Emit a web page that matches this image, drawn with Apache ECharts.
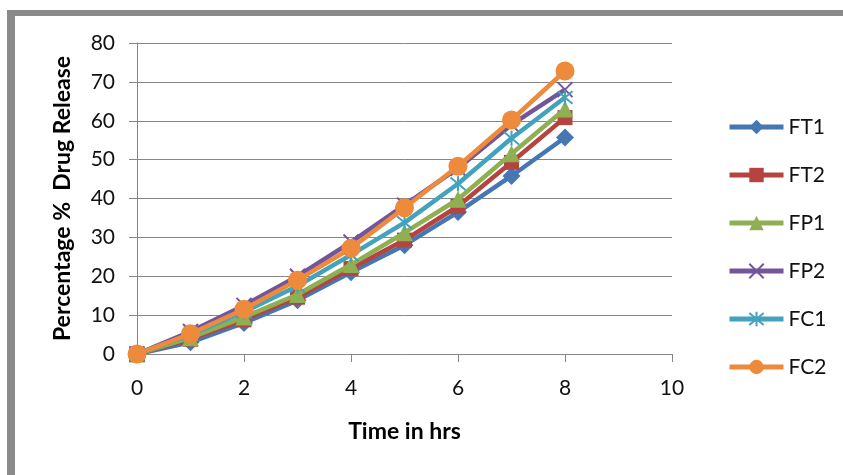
<!DOCTYPE html>
<html>
<head>
<meta charset="utf-8">
<script src="https://cdn.jsdelivr.net/npm/echarts@6/dist/echarts.min.js"></script>
<style>
  html, body { margin: 0; padding: 0; background: #ffffff; }
  #frame { position: absolute; left: 7px; top: 10px; width: 836px; height: 465px;
           border-top: 6px solid #8a8a8a; border-left: 8px solid #8a8a8a; box-sizing: border-box; }
  #chart { position: absolute; left: 0; top: 0; width: 843px; height: 475px; }
</style>
</head>
<body>
<div id="frame"></div>
<div id="chart"></div>
<script>
// ---- Data ----
const timeHrs = [0, 1, 2, 3, 4, 5, 6, 7, 8];
const seriesNames = ['FT1', 'FT2', 'FP1', 'FP2', 'FC1', 'FC2'];
const FT1 = [0, 3.0, 8.0, 13.8, 21.0, 28.0, 36.5, 45.8, 55.7];
const FT2 = [0, 3.8, 8.8, 14.6, 22.0, 29.3, 38.0, 49.3, 60.8];
const FP1 = [0, 4.2, 9.5, 15.3, 23.0, 31.2, 39.8, 51.5, 63.0];
const FP2 = [0, 5.8, 12.5, 20.0, 28.8, 38.3, 47.8, 59.0, 68.0];
const FC1 = [0, 5.0, 10.8, 17.5, 25.5, 33.8, 43.8, 55.5, 66.0];
const FC2 = [0, 5.2, 11.5, 19.0, 27.2, 37.6, 48.3, 60.2, 72.8];
const xTicks = [0, 2, 4, 6, 8, 10];
const yTicks = [0, 10, 20, 30, 40, 50, 60, 70, 80];

// ---- Styling ----
const values = [FT1, FT2, FP1, FP2, FC1, FC2];
const colors = ['#4677b2', '#b54441', '#8fb052', '#73569a', '#43a2bc', '#ee8a3c'];
const symbols = ['diamond', 'rect', 'triangle',
  'path://M0 0L10 10M10 0L0 10',
  'path://M0 0L10 10M10 0L0 10M5 -1L5 11',
  'circle'];
const sizes = [18, 15, 17, 15, 15, 19];
const FONT = 'Lato, "Open Sans", sans-serif';

const chart = echarts.init(document.getElementById('chart'), null, { renderer: 'canvas' });
const series = seriesNames.map((name, i) => {
  const isPath = symbols[i].startsWith('path://');
  return {
    name: name,
    type: 'line',
    data: timeHrs.map((t, k) => [t, values[i][k]]),
    symbol: symbols[i],
    symbolSize: sizes[i],
    showAllSymbol: true,
    lineStyle: { color: colors[i], width: 4.5 },
    itemStyle: isPath
      ? { color: colors[i], borderColor: colors[i], borderWidth: 2 }
      : { color: colors[i], borderColor: colors[i], borderWidth: 0 },
    emphasis: { disabled: true },
    animation: false,
    z: 2 + i
  };
});

chart.setOption({
  backgroundColor: 'transparent',
  animation: false,
  grid: { left: 137, right: 171, top: 43, bottom: 121, containLabel: false },
  legend: {
    orient: 'vertical',
    left: 727,
    top: 116,
    padding: 0,
    itemWidth: 54,
    itemHeight: 18,
    itemGap: 26,
    lineStyle: { width: 5 },
    textStyle: { fontFamily: FONT, fontSize: 21, color: '#111', lineHeight: 22, padding: [0, 0, 0, 0] },
    data: seriesNames
  },
  xAxis: {
    type: 'value',
    min: xTicks[0],
    max: xTicks[xTicks.length - 1],
    interval: xTicks[1] - xTicks[0],
    name: 'Time in hrs',
    nameLocation: 'middle',
    nameGap: 66,
    nameTextStyle: { fontFamily: FONT, fontSize: 23, fontWeight: 'bold', color: '#000' },
    axisLine: { show: true, lineStyle: { color: '#868686', width: 1 } },
    axisTick: { show: true, inside: false, length: 8, lineStyle: { color: '#868686' } },
    axisLabel: { fontFamily: FONT, fontSize: 21, color: '#111', margin: 24 },
    splitLine: { show: false }
  },
  yAxis: {
    type: 'value',
    min: yTicks[0],
    max: yTicks[yTicks.length - 1],
    interval: yTicks[1] - yTicks[0],
    name: 'Percentage %  Drug Release',
    nameLocation: 'middle',
    nameGap: 63,
    nameRotate: 90,
    nameTextStyle: { fontFamily: FONT, fontSize: 23, fontWeight: 'bold', color: '#000' },
    axisLine: { show: true, lineStyle: { color: '#868686', width: 1 } },
    axisTick: { show: true, inside: false, length: 8, lineStyle: { color: '#868686' } },
    axisLabel: { fontFamily: FONT, fontSize: 21, color: '#111', margin: 22 },
    splitLine: { show: true, lineStyle: { color: '#868686', width: 1 } }
  },
  series: series
});
</script>
</body>
</html>
